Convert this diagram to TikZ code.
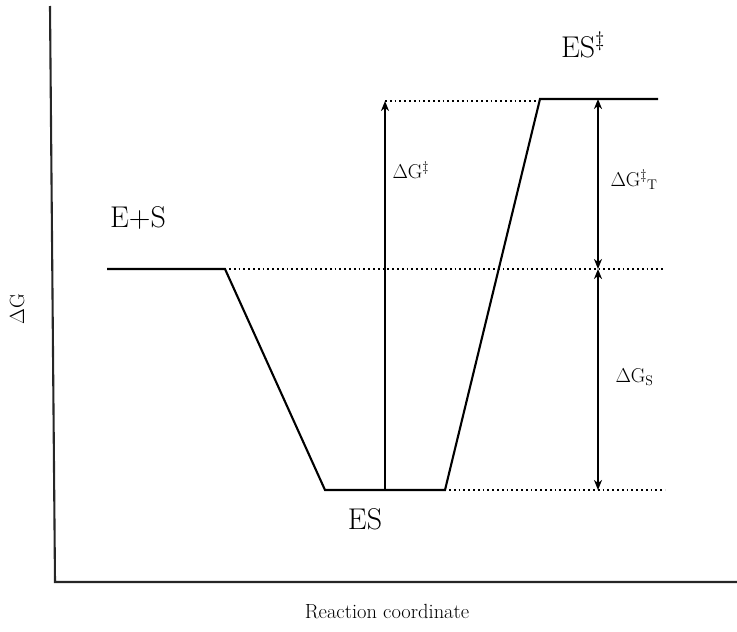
\RequirePackage{fix-cm}
\documentclass[tikz,border=0pt]{standalone}
\usetikzlibrary{arrows.meta}
\begin{document}
\begin{tikzpicture}[x=1pt,y=-1pt,
  level/.style={line width=2.1pt},
  axisline/.style={line width=2.1pt,draw=black!85},
  dotline/.style={line width=1.8pt,dash pattern=on 1.8pt off 3pt},
  arr/.style={line width=1.7pt,-{Stealth[length=10pt,width=8pt,inset=3pt]}},
  darr/.style={line width=1.7pt,{Stealth[length=10pt,width=8pt,inset=3pt]}-{Stealth[length=10pt,width=8pt,inset=3pt]}},
  big/.style={font=\fontsize{30}{34}\selectfont},
  mid/.style={font=\fontsize{20}{24}\selectfont},
  small/.style={font=\fontsize{20.5}{24}\selectfont}]
\useasboundingbox (0,0) rectangle (737,632);
% axes
\coordinate (ytop) at (50,6);
\coordinate (orig) at (55,582);
\coordinate (xend) at (737,582);
\draw[axisline] (ytop) -- (orig) -- (xend);
% energy profile
\coordinate (a1) at (107,269);
\coordinate (a2) at (225,269);
\coordinate (b1) at (325,490);
\coordinate (b2) at (445,490);
\coordinate (c1) at (540,99);
\coordinate (c2) at (658,99);
\draw[level,line join=miter] (a1) -- (a2) -- (b1) -- (b2) -- (c1) -- (c2);
% dotted guides
\coordinate (d1) at (665,269);
\coordinate (d2) at (665,490);
\coordinate (m2) at (385,101);
\coordinate (m1) at (385,490);
\draw[dotline] (a2) ++(4,0) -- (d1);
\draw[dotline] (b2) ++(4,0) -- (d2);
\draw[dotline] (m2) -- (c1 |- m2);
% arrows
\draw[arr] (m1) -- (m2);
\coordinate (t1) at (598,99);
\coordinate (t2) at (598,269);
\coordinate (t3) at (598,490);
\draw[darr] (t2) -- (t1);
\draw[darr] (t3) -- (t2);
% labels
\node[big] (es) at (138,218) {E+S};
\node[big] (esl) at (365,519) {ES};
\node[big] (ests) at (583,45) {ES$^\ddagger$};
\node[mid,anchor=west] (dgts) at (389,170) {$\Delta$G$^\ddagger$};
\node[mid,anchor=west] (dgt) at (607,180) {$\Delta$G$^\ddagger{}_{\mathrm{T}}$};
\node[mid,anchor=west] (dgs) at (612,377) {$\Delta$G$_{\mathrm{S}}$};
\node[small,rotate=90] (ylab) at (17,309) {$\Delta$G};
\node[small] (xlab) at (387,612) {Reaction coordinate};
\end{tikzpicture}
\end{document}
